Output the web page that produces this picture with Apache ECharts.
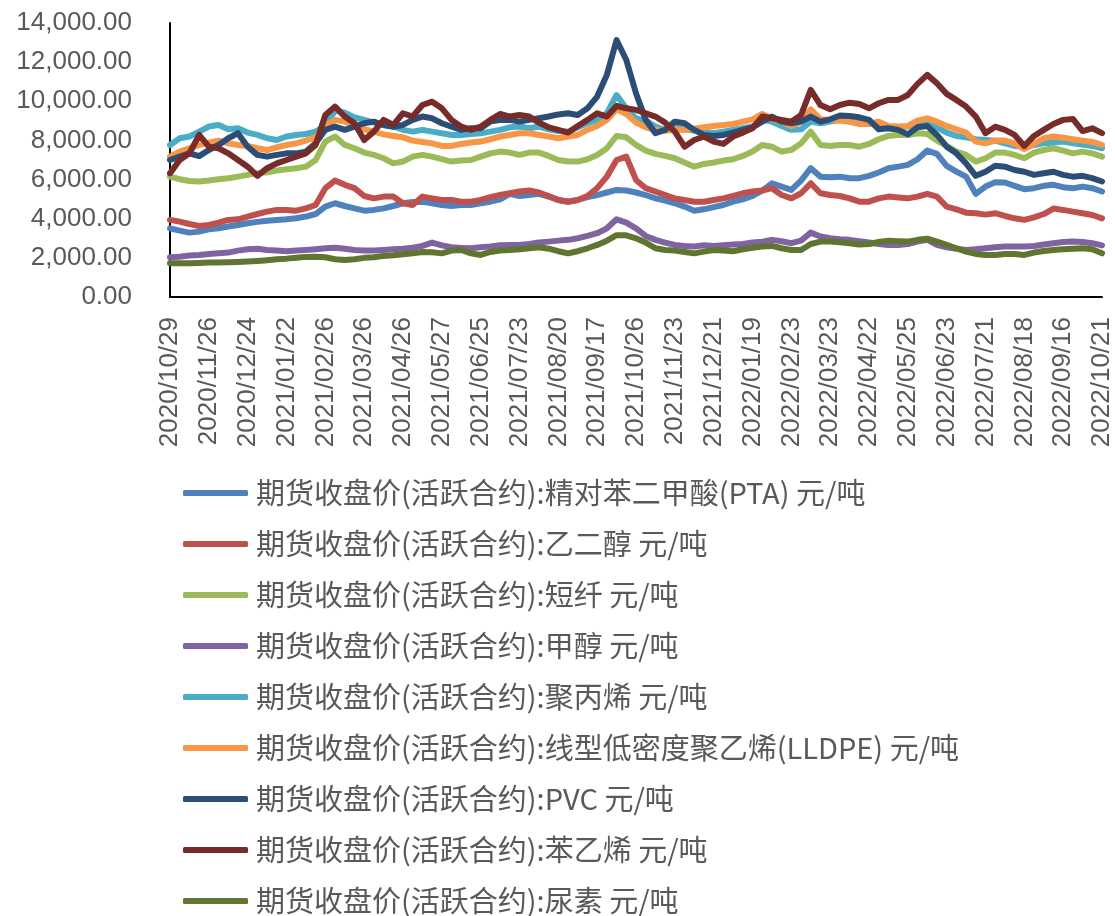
<!DOCTYPE html>
<html>
<head>
<meta charset="utf-8">
<script src="https://cdn.jsdelivr.net/npm/echarts@6/dist/echarts.min.js"></script>
<style>
  html, body { margin: 0; padding: 0; background: #fff; }
  #chart { width: 1115px; height: 916px; }
</style>
</head>
<body>
<div id="chart"></div>
<script>
// Weekly closing prices of active futures contracts (元/吨)
const dates = [
  '2020/10/29','2020/11/05','2020/11/12','2020/11/19',
  '2020/11/26','2020/12/03','2020/12/10','2020/12/17',
  '2020/12/24','2020/12/31','2021/01/08','2021/01/15',
  '2021/01/22','2021/01/29','2021/02/05','2021/02/19',
  '2021/02/26','2021/03/05','2021/03/12','2021/03/19',
  '2021/03/26','2021/04/02','2021/04/12','2021/04/19',
  '2021/04/26','2021/05/06','2021/05/13','2021/05/20',
  '2021/05/27','2021/06/03','2021/06/10','2021/06/18',
  '2021/06/25','2021/07/02','2021/07/09','2021/07/16',
  '2021/07/23','2021/07/30','2021/08/06','2021/08/13',
  '2021/08/20','2021/08/27','2021/09/03','2021/09/10',
  '2021/09/17','2021/09/28','2021/10/12','2021/10/19',
  '2021/10/26','2021/11/02','2021/11/09','2021/11/16',
  '2021/11/23','2021/11/30','2021/12/07','2021/12/14',
  '2021/12/21','2021/12/28','2022/01/05','2022/01/12',
  '2022/01/19','2022/01/26','2022/02/09','2022/02/16',
  '2022/02/23','2022/03/02','2022/03/09','2022/03/16',
  '2022/03/23','2022/03/30','2022/04/08','2022/04/15',
  '2022/04/22','2022/04/29','2022/05/11','2022/05/18',
  '2022/05/25','2022/06/01','2022/06/09','2022/06/16',
  '2022/06/23','2022/06/30','2022/07/07','2022/07/14',
  '2022/07/21','2022/07/28','2022/08/04','2022/08/11',
  '2022/08/18','2022/08/25','2022/09/01','2022/09/08',
  '2022/09/16','2022/09/23','2022/09/30','2022/10/14',
  '2022/10/21'
];

const pta = [
  3510,3390,3290,3340,3460,3510,3600,3680, 3770,3840,3900,3940,3970,4020,4110,4240,
  4620,4790,4650,4530,4410,4450,4530,4650, 4790,4860,4860,4790,4700,4650,4700,4700,
  4790,4870,4990,5270,5160,5210,5270,5130, 4960,4870,4960,5100,5210,5340,5470,5440,
  5340,5210,5040,4930,4790,4620,4410,4480, 4590,4700,4870,4990,5160,5440,5810,5640,
  5470,5950,6580,6150,6120,6150,6070,6070, 6190,6360,6580,6660,6750,7040,7480,7310,
  6700,6410,6150,5270,5640,5860,5850,5680, 5510,5560,5680,5730,5610,5560,5640,5560,
  5390
];
const meg = [
  3940,3850,3730,3630,3680,3800,3940,3970, 4110,4240,4360,4450,4450,4410,4530,4700,
  5560,5950,5730,5560,5160,5040,5130,5130, 4790,4700,5130,5040,4960,4960,4870,4870,
  4960,5100,5210,5300,5390,5440,5340,5160, 4960,4870,4960,5160,5560,6150,7000,7170,
  5980,5560,5390,5210,5040,4960,4870,4870, 4960,5040,5160,5300,5390,5440,5560,5210,
  5040,5300,5810,5300,5210,5160,5040,4870, 4870,5040,5130,5080,5040,5130,5270,5130,
  4620,4480,4310,4280,4210,4280,4140,4020, 3940,4070,4240,4520,4450,4360,4280,4190,
  4020
];
const psf = [
  6150,6020,5930,5900,5950,6020,6070,6150, 6240,6320,6370,6460,6530,6580,6660,7000,
  7940,8200,7770,7600,7380,7260,7090,6830, 6920,7170,7260,7170,7040,6920,6970,7000,
  7170,7340,7430,7380,7260,7380,7380,7210, 7000,6920,6920,7040,7260,7600,8230,8160,
  7770,7480,7310,7210,7090,6870,6660,6800, 6870,6970,7040,7210,7430,7770,7680,7430,
  7510,7850,8450,7770,7720,7770,7770,7680, 7820,8060,8230,8280,8280,8370,8330,7990,
  7720,7430,7260,6920,7090,7380,7380,7260, 7090,7380,7510,7600,7480,7340,7430,7340,
  7170
];
const methanol = [
  2030,2060,2120,2150,2200,2230,2270,2370, 2440,2470,2400,2370,2340,2370,2400,2440,
  2490,2520,2470,2400,2370,2370,2400,2440, 2470,2520,2610,2780,2640,2540,2510,2490,
  2540,2580,2640,2660,2660,2710,2780,2830, 2880,2920,3000,3120,3260,3510,3970,3800,
  3510,3120,2920,2780,2660,2610,2580,2640, 2610,2640,2680,2710,2780,2830,2920,2850,
  2750,2880,3290,3090,3000,2950,2920,2850, 2780,2710,2660,2660,2710,2830,2920,2660,
  2540,2470,2400,2440,2490,2540,2580,2580, 2580,2610,2680,2750,2810,2830,2810,2750,
  2640
];
const pp = [
  7770,8110,8200,8450,8710,8790,8570,8620, 8400,8280,8110,8020,8200,8280,8330,8450,
  8740,9520,9420,9180,9050,8910,8790,8710, 8540,8450,8540,8450,8370,8280,8280,8330,
  8370,8450,8540,8670,8710,8620,8710,8570, 8480,8450,8670,8880,9050,9390,10320,9640,
  9130,9010,8710,8540,8670,8570,8500,8450, 8370,8450,8540,8620,8710,9050,8960,8740,
  8540,8570,8960,8880,8960,9050,8960,8880, 9000,8740,8620,8670,8710,8910,8960,8670,
  8400,8230,8160,8060,8020,7990,7850,7720, 7680,7770,7850,7890,7940,7850,7790,7720,
  7600
];
const lldpe = [
  7170,7430,7600,7770,7890,7990,7850,7770, 7720,7600,7510,7650,7770,7850,7990,8160,
  8740,9050,8960,8790,8570,8450,8310,8230, 8160,7990,7920,7850,7720,7720,7820,7890,
  7940,8060,8200,8280,8370,8370,8280,8200, 8110,8200,8280,8540,8740,9050,9590,9350,
  8910,8670,8540,8500,8540,8540,8600,8670, 8740,8790,8840,8960,9080,9350,9130,8960,
  8740,8960,9590,9080,9050,9010,8960,8840, 8840,8960,8740,8710,8740,9010,9130,8960,
  8740,8570,8400,7940,7850,7990,7990,7850, 7550,7820,8110,8200,8140,8060,7990,7920,
  7770
];
const pvc = [
  7000,7170,7340,7200,7510,7770,8110,8370, 7680,7260,7170,7260,7340,7340,7430,7850,
  8540,8700,8540,8700,8880,8960,8790,8700, 8790,9050,9220,9130,8880,8700,8540,8620,
  8620,8960,9050,9050,8960,9050,9130,9220, 9330,9390,9300,9640,10240,11350,13130,12110,
  10410,9050,8370,8540,8960,8880,8540,8280, 8230,8280,8400,8540,8670,8960,9220,8960,
  8880,8960,9220,8960,9080,9270,9250,9180, 9050,8570,8620,8540,8310,8670,8740,8280,
  7680,7340,6830,6190,6400,6710,6660,6490, 6400,6240,6320,6400,6240,6150,6190,6070,
  5900
];
const styrene = [
  6320,7000,7340,8280,7680,7600,7340,7000, 6660,6190,6580,6830,7000,7170,7340,7770,
  9300,9730,9220,8880,8020,8450,9050,8790, 9390,9220,9810,9980,9640,9050,8700,8540,
  8700,9050,9350,9220,9300,9220,8910,8670, 8540,8400,8740,9050,9390,9220,9760,9640,
  9560,9390,9220,8910,8450,7680,8020,8200, 7940,7820,8200,8400,8620,9220,9130,9050,
  8960,9300,10580,9810,9590,9810,9930,9860, 9640,9900,10070,10070,10320,10890,11350,10920,
  10380,10070,9730,9220,8370,8700,8540,8280, 7720,8230,8540,8840,9050,9100,8480,8620,
  8370
];
const urea = [
  1720,1720,1720,1740,1760,1760,1780,1790, 1810,1840,1880,1930,1960,2010,2050,2060,
  2030,1930,1890,1930,2000,2030,2100,2130, 2180,2230,2300,2290,2230,2370,2400,2230,
  2150,2300,2370,2400,2440,2490,2540,2470, 2340,2230,2340,2490,2660,2880,3160,3150,
  3000,2780,2490,2400,2370,2300,2230,2320, 2400,2370,2340,2440,2510,2580,2610,2490,
  2400,2400,2710,2830,2830,2800,2750,2680, 2710,2810,2880,2850,2830,2920,2980,2830,
  2660,2490,2320,2200,2150,2150,2200,2200, 2150,2270,2350,2400,2440,2470,2490,2440,
  2230
];

const seriesNames = [
  '期货收盘价(活跃合约):精对苯二甲酸(PTA) 元/吨',
  '期货收盘价(活跃合约):乙二醇 元/吨',
  '期货收盘价(活跃合约):短纤 元/吨',
  '期货收盘价(活跃合约):甲醇 元/吨',
  '期货收盘价(活跃合约):聚丙烯 元/吨',
  '期货收盘价(活跃合约):线型低密度聚乙烯(LLDPE) 元/吨',
  '期货收盘价(活跃合约):PVC 元/吨',
  '期货收盘价(活跃合约):苯乙烯 元/吨',
  '期货收盘价(活跃合约):尿素 元/吨'
];
const seriesValues = [pta, meg, psf, methanol, pp, lldpe, pvc, styrene, urea];
const seriesColors = ['#4F81BD','#C0504D','#9BBB59','#8064A2','#4BACC6','#F79646','#2C4D75','#772C2A','#5F7530'];

function fmt(v) {
  const s = Math.round(v).toString().replace(/\B(?=(\d{3})+(?!\d))/g, ',');
  return s + '.00';
}

const chart = echarts.init(document.getElementById('chart'), null, { renderer: 'canvas' });
chart.setOption({
  animation: false,
  backgroundColor: '#ffffff',
  grid: { left: 170, right: 12, top: 23, bottom: 619, containLabel: false },
  xAxis: {
    type: 'category',
    data: dates,
    boundaryGap: false,
    axisLine: { show: true, lineStyle: { color: '#000000', width: 2 } },
    axisTick: { show: false },
    axisLabel: {
      interval: 3,
      rotate: 90,
      margin: 20,
      color: '#595959',
      fontSize: 26,
      fontFamily: 'Liberation Sans'
    },
    splitLine: { show: false }
  },
  yAxis: {
    type: 'value',
    min: 0,
    max: 14000,
    interval: 2000,
    axisLine: { show: true, lineStyle: { color: '#000000', width: 2 } },
    axisTick: { show: false },
    axisLabel: {
      margin: 38,
      color: '#595959',
      fontSize: 26,
      fontFamily: 'Liberation Sans',
      formatter: fmt
    },
    splitLine: { show: false }
  },
  legend: {
    type: 'plain',
    orient: 'vertical',
    left: 183,
    top: 478,
    height: 460,
    padding: 0,
    itemWidth: 65,
    itemHeight: 6,
    itemGap: 21,
    icon: 'roundRect',
    data: seriesNames,
    textStyle: {
      color: '#595959',
      fontSize: 29,
      lineHeight: 30,
      fontFamily: 'Noto Sans CJK SC',
      padding: [0, 0, 0, 3]
    }
  },
  series: seriesNames.map((name, i) => ({
    name: name,
    type: 'line',
    data: seriesValues[i],
    symbol: 'none',
    showSymbol: false,
    color: seriesColors[i],
    itemStyle: { color: seriesColors[i] },
    lineStyle: { color: seriesColors[i], width: 6, cap: 'round', join: 'round' }
  }))
});
</script>
</body>
</html>
